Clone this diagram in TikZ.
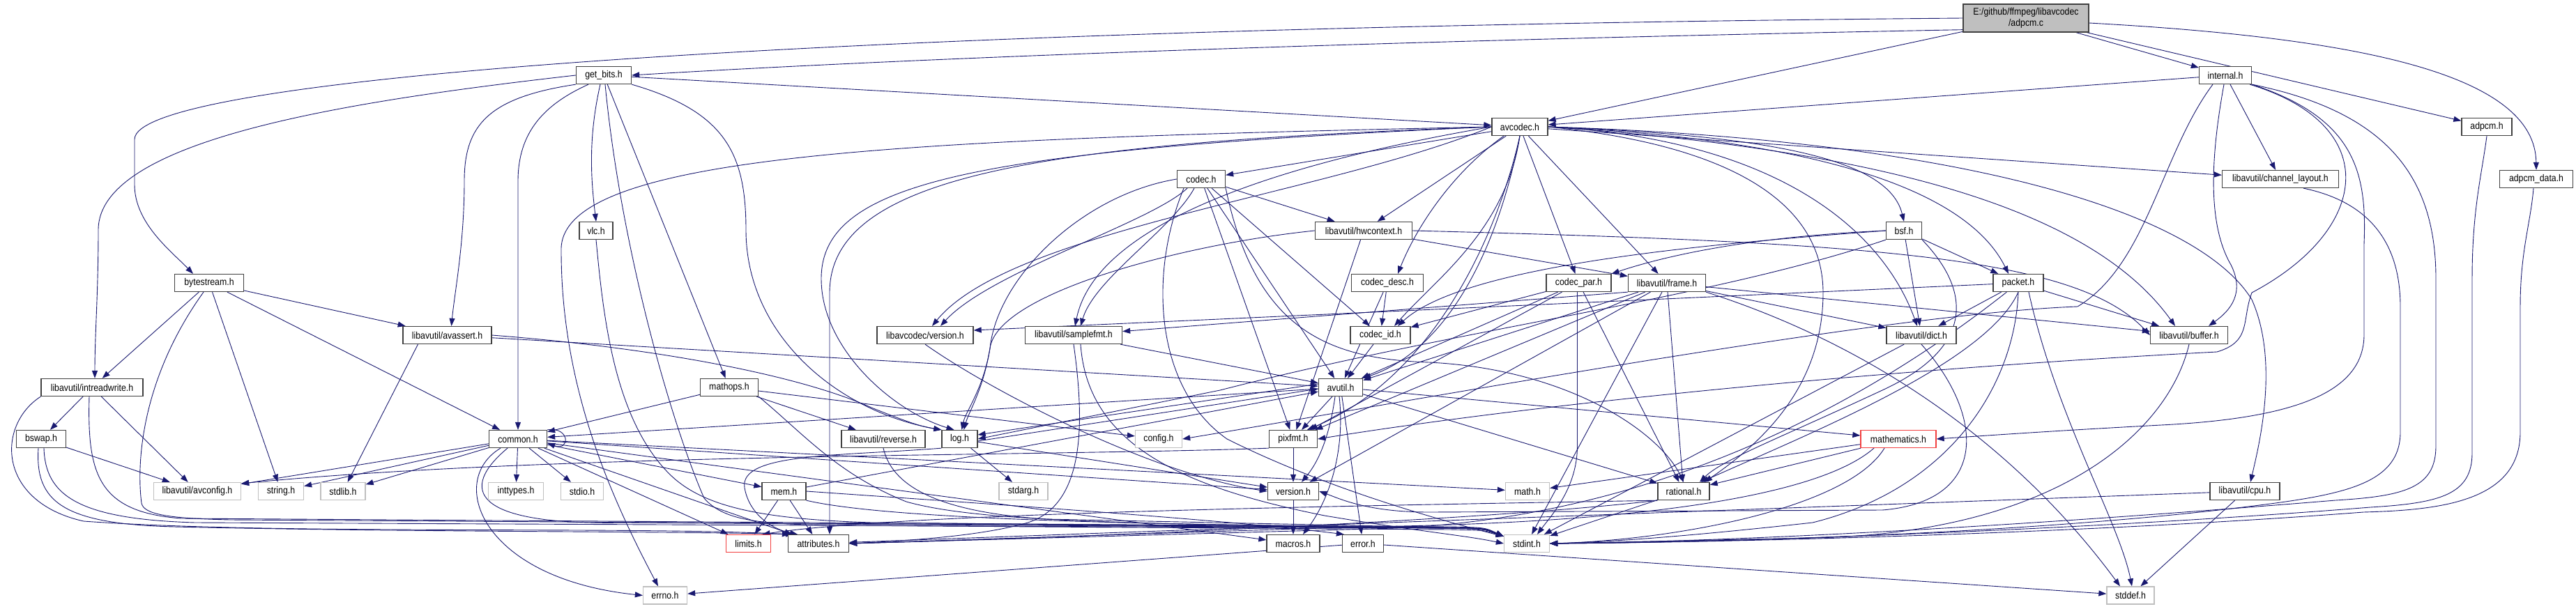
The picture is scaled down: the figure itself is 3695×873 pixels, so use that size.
\documentclass[tikz,border=0pt]{standalone}
\usepackage{fontspec}
\newfontfamily\dfont[FakeStretch=0.88]{Liberation Sans}
\usetikzlibrary{arrows.meta}
\definecolor{edgec}{HTML}{191970}
\definecolor{bordc}{HTML}{404040}
\definecolor{extc}{HTML}{BFBFBF}
\definecolor{truncc}{HTML}{F24040}
\definecolor{rootc}{HTML}{BFBFBF}
\pgfdeclarelayer{back}
\pgfdeclarelayer{edges}
\pgfsetlayers{back,edges,main}
\tikzset{
  nd/.style={draw=bordc, line width=1.3pt, fill=white, minimum height=25pt, inner sep=0pt, text=black, font=\dfont\fontsize{14pt}{16pt}\selectfont},
  extn/.style={nd, draw=extc},
  trn/.style={nd, draw=truncc},
  root/.style={nd, fill=rootc, minimum width=180pt, minimum height=40pt, align=center, font=\dfont\fontsize{14pt}{15.5pt}\selectfont},
  dep/.style={draw=edgec, line width=0.9pt, -{Triangle[length=11pt,width=8pt,fill=edgec]}}
}
\begin{document}
\begin{tikzpicture}[x=1pt,y=-1pt]
\useasboundingbox (0,0) rectangle (3695,873);
\begin{pgfonlayer}{back}
\fill[white] (0,0) rectangle (3695,873);
\end{pgfonlayer}

% ---------------- nodes ----------------
\node[root] (adpcmc) at (2906,26) {E:/github/ffmpeg/libavcodec\\/adpcm.c};
\node[nd, minimum width=79pt] (getbits) at (866,108) {get\_bits.h};
\node[nd, minimum width=75pt] (internal) at (3192,108) {internal.h};
\node[nd, minimum width=80pt] (avcodec) at (2180,182) {avcodec.h};
\node[nd, minimum width=72pt] (adpcmh) at (3567,182) {adpcm.h};
\node[nd, minimum width=69pt] (codec) at (1723,257) {codec.h};
\node[nd, minimum width=167pt] (chlayout) at (3271,257) {libavutil/channel\_layout.h};
\node[nd, minimum width=105pt] (adpcmdata) at (3638,257) {adpcm\_data.h};
\node[nd, minimum width=48pt] (vlc) at (855,331) {vlc.h};
\node[nd, minimum width=139pt] (hwcontext) at (1956,331) {libavutil/hwcontext.h};
\node[nd, minimum width=51pt] (bsf) at (2731,331) {bsf.h};
\node[nd, minimum width=99pt] (bytestream) at (300,406) {bytestream.h};
\node[nd, minimum width=103pt] (codecdesc) at (1990,406) {codec\_desc.h};
\node[nd, minimum width=93pt] (codecpar) at (2264.5,406) {codec\_par.h};
\node[nd, minimum width=111pt] (frame) at (2391,406) {libavutil/frame.h};
\node[nd, minimum width=72pt] (packet) at (2895,406) {packet.h};
\node[nd, minimum width=127pt] (avassert) at (641.5,481) {libavutil/avassert.h};
\node[nd, minimum width=138pt] (lcversion) at (1327,481) {libavcodec/version.h};
\node[nd, minimum width=139pt] (samplefmt) at (1540,481) {libavutil/samplefmt.h};
\node[nd, minimum width=86pt] (codecid) at (1980,481) {codec\_id.h};
\node[nd, minimum width=100pt] (dict) at (2756,481) {libavutil/dict.h};
\node[nd, minimum width=111pt] (buffer) at (3140,481) {libavutil/buffer.h};
\node[nd, minimum width=146pt] (intreadwrite) at (132,556) {libavutil/intreadwrite.h};
\node[nd, minimum width=83pt] (mathops) at (1046,556) {mathops.h};
\node[nd, minimum width=63pt] (avutil) at (1923,556) {avutil.h};
\node[nd, minimum width=71pt] (bswap) at (59,630) {bswap.h};
\node[nd, minimum width=83pt] (common) at (743,630) {common.h};
\node[nd, minimum width=120pt] (reverse) at (1267,630) {libavutil/reverse.h};
\node[nd, minimum width=51pt] (log) at (1376.5,630) {log.h};
\node[extn, minimum width=67pt] (config) at (1662,630) {config.h};
\node[nd, minimum width=69pt] (pixfmt) at (1855,630) {pixfmt.h};
\node[trn, minimum width=108pt] (mathematics) at (2723,630) {mathematics.h};
\node[extn, minimum width=125pt] (avconfig) at (283,705) {libavutil/avconfig.h};
\node[extn, minimum width=65pt] (string) at (403,705) {string.h};
\node[extn, minimum width=64pt] (stdlib) at (492,705) {stdlib.h};
\node[extn, minimum width=79pt] (inttypes) at (740,705) {inttypes.h};
\node[extn, minimum width=61pt] (stdio) at (835,705) {stdio.h};
\node[extn, minimum width=70pt] (stdarg) at (1468,705) {stdarg.h};
\node[nd, minimum width=63pt] (mem) at (1124.5,705) {mem.h};
\node[nd, minimum width=73pt] (version) at (1855,705) {version.h};
\node[extn, minimum width=63pt] (math) at (2191,705) {math.h};
\node[nd, minimum width=74pt] (rational) at (2415,705) {rational.h};
\node[nd, minimum width=100pt] (cpu) at (3220,705) {libavutil/cpu.h};
\node[trn, minimum width=64pt] (limits) at (1073.5,780) {limits.h};
\node[nd, minimum width=87pt] (attributes) at (1174,780) {attributes.h};
\node[nd, minimum width=76pt] (macros) at (1855,780) {macros.h};
\node[nd, minimum width=59pt] (error) at (1955,780) {error.h};
\node[extn, minimum width=65pt] (stdint) at (2190,780) {stdint.h};
\node[extn, minimum width=63pt] (errno) at (954,854.5) {errno.h};
\node[extn, minimum width=68pt] (stddef) at (3056,854.5) {stddef.h};

% ---------------- edges ----------------
\begin{pgfonlayer}{edges}
% adpcm.c
\draw[dep] (adpcmc.west) .. controls (1200,40) and (193,110) .. (193,200) -- (193,265) .. controls (193,320) and (245,360) .. ([xshift=-23pt]bytestream.north);
\draw[dep] ([yshift=4pt]adpcmc.south west) .. controls (1800,62) and (1200,90) .. (getbits.east);
\draw[dep] (adpcmc) -- (avcodec);
\draw[dep] (adpcmc) -- (internal);
\draw[dep] (adpcmc) -- (adpcmh);
\draw[dep] ([yshift=-7pt]adpcmc.east) .. controls (3400,55) and (3636,110) .. (adpcmdata.north);
% get_bits.h
\draw[dep] (getbits.west) .. controls (500,145) and (141,200) .. (141,330) .. controls (141,420) and (136,480) .. ([xshift=4pt]intreadwrite.north);
\draw[dep] (getbits.south west) .. controls (700,140) and (666,180) .. (666,260) .. controls (666,350) and (652,420) .. ([xshift=6pt]avassert.north);
\draw[dep] ([xshift=-22pt]getbits.south) .. controls (780,150) and (743,190) .. (743,260) -- (common.north);
\draw[dep] ([xshift=-5pt]getbits.south) .. controls (843,200) and (848,260) .. (vlc.north);
\draw[dep] (getbits) -- (avcodec);
\draw[dep] (getbits) -- (mathops);
\draw[dep] (getbits.south east) .. controls (1040,160) and (1070,220) .. (1070,330) .. controls (1070,480) and (1200,590) .. (log.north west);
\draw[dep] ([xshift=2pt]getbits.south) .. controls (890,350) and (960,600) .. (1010,715) .. controls (1040,750) and (1100,752) .. (1200,754) -- (2080,760) .. controls (2130,761) .. ([yshift=-3pt]stdint.north west);
% vlc.h
\draw[dep] (vlc.south) .. controls (865,450) and (880,600) .. (960,680) .. controls (1010,730) and (1100,745) .. (1250,750) -- (2080,758) .. controls (2130,759) .. ([yshift=-3pt]stdint.north west);
% internal.h
\draw[dep] (internal) -- (avcodec);
\draw[dep] (internal) -- (chlayout);
\draw[dep] ([xshift=-2pt]internal.south) .. controls (3172,220) and (3165,320) .. (3200,380) .. controls (3220,420) and (3200,445) .. ([xshift=28pt]buffer.north);
\draw[dep] ([xshift=-18pt]internal.south) .. controls (3100,220) and (3080,380) .. (2980,440) .. controls (2700,450) and (2000,580) .. (config.east);
\draw[dep] ([xshift=-3pt]internal.south east) .. controls (3420,180) and (3400,330) .. (3230,420) .. controls (3215,460) and (3230,490) .. (3180,505) .. controls (2700,530) and (2200,580) .. (pixfmt.east);
\draw[dep] (internal.south east) .. controls (3380,170) and (3395,250) .. (3391,350) -- (3391,480) .. controls (3391,560) and (3300,600) .. (3100,610) .. controls (2950,618) and (2850,625) .. (mathematics.east);
\draw[dep] (internal.south east) .. controls (3420,160) and (3494,250) .. (3494,400) -- (3494,640) .. controls (3494,700) and (3450,712) .. (3350,718) .. controls (2900,755) and (2500,777) .. (stdint.east);
% avcodec.h
\draw[dep] (avcodec.west) .. controls (1300,200) and (800,220) .. (805,360) .. controls (805,560) and (880,720) .. ([xshift=-10pt]errno.north);
\draw[dep] (avcodec.west) .. controls (1500,205) and (1190,250) .. (1190,420) -- (1190,620) .. controls (1190,700) and (1190,730) .. ([xshift=16pt]attributes.north);
\draw[dep] (avcodec.west) .. controls (1400,215) and (1178,260) .. (1178,400) .. controls (1178,500) and (1280,590) .. ([xshift=-8pt]log.north);
\draw[dep] (avcodec.west) .. controls (1900,280) and (1450,330) .. ([xshift=10pt]lcversion.north);
\draw[dep] (avcodec.west) .. controls (1800,240) and (1570,330) .. ([xshift=2pt]samplefmt.north);
\draw[dep] (avcodec.south) .. controls (2150,350) and (2080,500) .. (avutil.north east);
\draw[dep] (avcodec.east) .. controls (2700,215) and (3000,300) .. ([xshift=-20pt]buffer.north);
\draw[dep] (avcodec.east) .. controls (2800,200) and (3150,300) .. (3230,430) .. controls (3270,520) and (3240,640) .. ([xshift=8pt]cpu.north);
\draw[dep] (avcodec) -- (chlayout);
\draw[dep] (avcodec.east) .. controls (2550,200) and (2700,330) .. ([xshift=-6pt]dict.north);
\draw[dep] (avcodec) -- (frame);
\draw[dep] (avcodec) -- (hwcontext);
\draw[dep] (avcodec.south) .. controls (2150,330) and (2060,540) .. ([xshift=20pt]pixfmt.north);
\draw[dep] (avcodec.east) .. controls (2500,210) and (2615,300) .. (2615,420) .. controls (2615,560) and (2520,640) .. ([xshift=30pt]rational.north);
\draw[dep] (avcodec.east) .. controls (2550,195) and (2710,230) .. (bsf.north);
\draw[dep] (avcodec) -- (codec);
\draw[dep] ([xshift=-23pt]avcodec.south) .. controls (2080,250) and (2030,330) .. ([xshift=15pt]codecdesc.north);
\draw[dep] (avcodec) -- (codecpar);
\draw[dep] (avcodec.south) .. controls (2160,330) and (2060,400) .. ([xshift=20pt]codecid.north);
\draw[dep] (avcodec.east) .. controls (2600,200) and (2820,270) .. ([xshift=-14pt]packet.north);
% codec.h
\draw[dep] (codec) -- (hwcontext);
\draw[dep] (codec) -- (avutil);
\draw[dep] (codec) -- (codecid);
\draw[dep] (codec) -- (pixfmt);
\draw[dep] (codec.south east) .. controls (1800,470) and (1900,515) .. (2050,520) .. controls (2250,530) and (2380,620) .. (rational.north);
\draw[dep] ([xshift=-10pt]codec.south) .. controls (1680,330) and (1570,400) .. ([xshift=10pt]samplefmt.north);
\draw[dep] ([xshift=-20pt]codec.south) .. controls (1650,320) and (1420,390) .. ([xshift=22pt]lcversion.north);
\draw[dep] (codec.west) .. controls (1550,280) and (1430,400) .. (1420,500) .. controls (1410,560) and (1385,590) .. ([xshift=3pt]log.north);
\draw[dep] ([xshift=-25pt]codec.south) .. controls (1645,400) and (1660,560) .. (1760,630) .. controls (1900,700) and (2060,745) .. ([yshift=-3pt]stdint.north west);
% hwcontext.h
\draw[dep] (hwcontext.east) .. controls (2700,348) and (2980,370) .. (buffer.west);
\draw[dep] (hwcontext) -- (frame);
\draw[dep] (hwcontext.west) .. controls (1700,350) and (1430,420) .. (1420,500) .. controls (1410,560) and (1390,590) .. ([xshift=6pt]log.north);
\draw[dep] (hwcontext) -- (pixfmt);
% bsf.h
\draw[dep] (bsf) -- (packet);
\draw[dep] (bsf) -- (dict);
\draw[dep] (bsf.west) .. controls (2500,340) and (2380,370) .. (codecpar.north east);
\draw[dep] (bsf.west) .. controls (2450,350) and (2100,380) .. ([xshift=25pt]codecid.north);
\draw[dep] (bsf.south west) .. controls (2450,430) and (2100,470) .. (1750,560) -- (log.east);
\draw[dep] (bsf.south east) .. controls (2830,420) and (2830,500) .. (2700,560) .. controls (2550,630) and (2470,660) .. ([xshift=23pt]rational.north);
% bytestream.h
\draw[dep] (bytestream) -- (intreadwrite);
\draw[dep] (bytestream) -- (string);
\draw[dep] (bytestream) -- (common);
\draw[dep] (bytestream) -- (avassert);
\draw[dep] ([xshift=-8pt]bytestream.south) .. controls (205,540) and (195,660) .. (203,722) .. controls (206,738) and (240,744) .. (330,746) -- (2080,757) .. controls (2130,758) .. ([yshift=-3pt]stdint.north west);
% avassert.h
\draw[dep] ([xshift=-42pt]avassert.south) -- (stdlib);
\draw[dep] (avassert) -- (avutil);
\draw[dep] (avassert.east) .. controls (950,500) and (1150,540) .. (1250,585) .. controls (1300,605) and (1320,612) .. (log.north west);
% libavcodec/version.h
\draw[dep] (lcversion.south) .. controls (1420,560) and (1650,680) .. (version.west);
% samplefmt.h
\draw[dep] (samplefmt) -- (avutil);
\draw[dep] (samplefmt.south) .. controls (1555,600) and (1560,730) .. (1467,752) .. controls (1400,770) and (1300,776) .. (attributes.east);
\draw[dep] ([xshift=10pt]samplefmt.south) .. controls (1560,640) and (1700,700) .. (1900,740) .. controls (2050,765) and (2100,768) .. (stdint.west);
% codec_desc.h, codec_id.h
\draw[dep] (codecdesc) -- (avutil);
\draw[dep] (codecdesc) -- (codecid);
\draw[dep] (codecid) -- (avutil);
% codec_par.h
\draw[dep] ([xshift=-2pt]codecpar.south) -- (2262.5,640) .. controls (2262.5,700) and (2225,740) .. ([xshift=15pt]stdint.north);
\draw[dep] (codecpar) -- (avutil);
\draw[dep] (codecpar) -- (rational);
\draw[dep] (codecpar) -- (pixfmt);
\draw[dep] (codecpar) -- (codecid);
% frame.h
\draw[dep] (frame.south east) .. controls (2700,500) and (2900,650) .. ([xshift=-15pt]stddef.north);
\draw[dep] (frame) -- (stdint);
\draw[dep] (frame) -- (avutil);
\draw[dep] (frame) -- (buffer);
\draw[dep] (frame) -- (dict);
\draw[dep] (frame) -- (rational);
\draw[dep] (frame.south west) -- (samplefmt);
\draw[dep] (frame) -- (pixfmt);
\draw[dep] (frame) -- (version);
% packet.h
\draw[dep] ([xshift=15pt]packet.south) .. controls (2950,600) and (3040,750) .. ([xshift=2pt]stddef.north);
\draw[dep] (packet.south) .. controls (2890,550) and (2800,700) .. (2600,750) .. controls (2400,772) and (2300,778) .. (stdint.east);
\draw[dep] (packet) -- ([yshift=7pt]lcversion.east);
\draw[dep] (packet) .. controls (2700,560) and (2400,740) .. (2000,758) -- (attributes.east);
\draw[dep] (packet) -- (buffer);
\draw[dep] (packet) -- (dict);
\draw[dep] (packet.south) .. controls (2850,520) and (2600,620) .. ([xshift=25pt]rational.north);
% dict.h
\draw[dep] (dict) -- (stdint);
\draw[dep] (dict.south) .. controls (2850,600) and (2850,720) .. (2700,732) -- (2050,735) .. controls (1960,735) and (1920,715) .. (version.east);
% buffer.h
\draw[dep] (buffer.south) .. controls (3110,620) and (2950,765) .. (2600,772) -- (stdint.east);
% intreadwrite.h
\draw[dep] (intreadwrite) -- (bswap);
\draw[dep] (intreadwrite) -- (avconfig);
\draw[dep] (intreadwrite.south west) .. controls (-5,610) and (-5,720) .. (120,748) .. controls (400,768) and (900,755) .. ([xshift=3pt]attributes.north west);
\draw[dep] ([xshift=-4pt]intreadwrite.south) .. controls (125,680) and (140,735) .. (260,744) -- (2080,756) .. controls (2130,757) .. ([yshift=-3pt]stdint.north west);
% bswap.h
\draw[dep] (bswap) -- (avconfig);
\draw[dep] ([xshift=-4pt]bswap.south) .. controls (50,720) and (90,752) .. (250,756) .. controls (600,764) and (950,762) .. ([xshift=8pt]attributes.north west);
\draw[dep] ([xshift=4pt]bswap.south) .. controls (65,710) and (110,745) .. (280,750) -- (2080,758) .. controls (2130,759) .. ([yshift=-3pt]stdint.north west);
% mathops.h
\draw[dep] (mathops) -- (common);
\draw[dep] (mathops) -- (config);
\draw[dep] (mathops) -- (reverse);
\draw[dep] (mathops.south east) .. controls (1150,620) and (1200,680) .. (1300,720) .. controls (1400,748) and (1600,752) .. (2080,758) .. controls (2130,759) .. ([yshift=-3pt]stdint.north west);
% reverse.h
\draw[dep] (reverse.south) .. controls (1280,700) and (1350,735) .. (1500,745) -- (2080,757) .. controls (2130,758) .. ([yshift=-3pt]stdint.north west);
% log.h
\draw[dep] (log) -- (stdarg);
\draw[dep] (log.south west) .. controls (1200,655) and (1060,650) .. (1068,700) .. controls (1075,740) and (1110,760) .. ([xshift=-30pt]attributes.north);
\draw[dep] (log) -- (version);
\draw[dep] ([yshift=-3pt]log.east) -- ([yshift=-2pt]avutil.west);
% avutil.h
\draw[dep] ([yshift=5pt]avutil.west) -- ([yshift=6pt]log.east);
\draw[dep] (avutil) -- (common);
\draw[dep] (avutil) -- (error);
\draw[dep] (avutil) -- (rational);
\draw[dep] ([xshift=-8pt]avutil.south) .. controls (1905,640) and (1885,670) .. ([xshift=12pt]version.north);
\draw[dep] ([xshift=-2pt]avutil.south) .. controls (1930,650) and (1905,720) .. ([xshift=14pt]macros.north);
\draw[dep] (avutil) -- (mathematics);
\draw[dep] (avutil) -- (pixfmt);
% pixfmt.h
\draw[dep] (pixfmt.south west) .. controls (1500,655) and (800,650) .. ([yshift=-2pt]avconfig.north east);
\draw[dep] (pixfmt) -- (version);
% common.h
\draw[dep] (common.north east) .. controls (818,612) and (818,648) .. ([yshift=-6pt]common.east);
\draw[dep] ([xshift=-25pt]common.south) .. controls (640,690) and (690,830) .. (errno.west);
\draw[dep] (common) -- (inttypes);
\draw[dep] (common) -- (stdio);
\draw[dep] (common) -- (limits);
\draw[dep] (common) -- (math);
\draw[dep] ([xshift=-15pt]common.south) .. controls (660,700) and (670,755) .. (900,750) -- (2080,758) .. controls (2130,759) .. ([yshift=-3pt]stdint.north west);
\draw[dep] (common) -- (stdlib);
\draw[dep] (common) -- (string);
\draw[dep] (common) -- (avconfig);
\draw[dep] (common) -- (attributes);
\draw[dep] (common) -- (macros);
\draw[dep] (common) -- (version);
\draw[dep] (common) -- (mem);
% error.h, version.h
\draw[dep] (error) -- (errno);
\draw[dep] (error) -- (stddef);
\draw[dep] (version) -- (macros);
% mem.h
\draw[dep] (mem) -- (limits);
\draw[dep] (mem) -- (attributes);
\draw[dep] (mem) -- (avutil);
\draw[dep] (mem.east) .. controls (1400,722) and (1750,745) .. ([xshift=3pt]error.north west);
\draw[dep] (mem.south east) .. controls (1250,740) and (1500,748) .. (1700,752) -- (2080,758) .. controls (2130,759) .. ([yshift=-3pt]stdint.north west);
% rational.h
\draw[dep] (rational) -- (stdint);
\draw[dep] (rational.south west) .. controls (2000,725) and (1300,735) .. ([xshift=20pt]limits.north);
\draw[dep] (rational.south west) .. controls (2150,745) and (1600,770) .. (attributes.east);
% mathematics.h
\draw[dep] (mathematics) -- (rational);
\draw[dep] (mathematics) -- (math);
\draw[dep] ([xshift=-35pt]mathematics.south) .. controls (2600,720) and (2300,752) .. (1950,756) -- (attributes.east);
\draw[dep] ([xshift=-20pt]mathematics.south) .. controls (2650,730) and (2400,775) .. (stdint.east);
% cpu.h
\draw[dep] (cpu) -- (stddef);
\draw[dep] (cpu) -- (attributes);
% channel_layout.h, adpcm.h, adpcm_data.h
\draw[dep] ([xshift=33pt]chlayout.south) .. controls (3400,290) and (3443,350) .. (3443,440) -- (3443,620) .. controls (3443,700) and (3350,712) .. (3200,730) .. controls (2900,765) and (2500,778) .. (stdint.east);
\draw[dep] (adpcmh.south) .. controls (3560,250) and (3546,300) .. (3546,400) -- (3546,650) .. controls (3546,710) and (3500,722) .. (3400,728) .. controls (3000,760) and (2500,778) .. (stdint.east);
\draw[dep] ([xshift=-4pt]adpcmdata.south) .. controls (3630,320) and (3615,360) .. (3615,440) -- (3615,620) .. controls (3615,720) and (3500,732) .. (3390,735) .. controls (3000,765) and (2500,778) .. (stdint.east);
\end{pgfonlayer}
\end{tikzpicture}
\end{document}
